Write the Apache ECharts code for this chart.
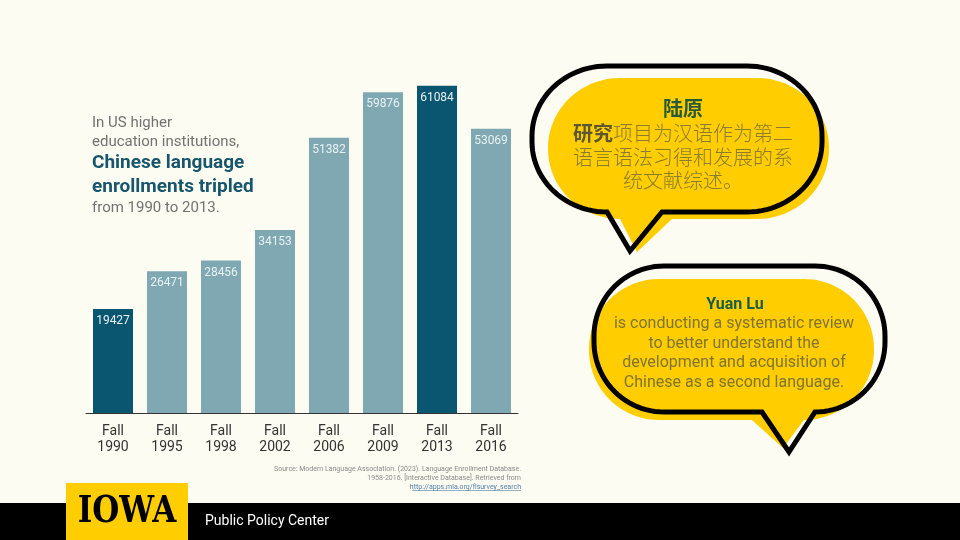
<!DOCTYPE html>
<html>
<head>
<meta charset="utf-8">
<script src="https://cdn.jsdelivr.net/npm/echarts@6/dist/echarts.min.js"></script>
<style>html,body{margin:0;padding:0;background:#fdfcf2;}#c{width:960px;height:540px;}</style>
</head>
<body>
<div id="c"></div>
<script>
const categories = ['Fall\n1990', 'Fall\n1995', 'Fall\n1998', 'Fall\n2002', 'Fall\n2006', 'Fall\n2009', 'Fall\n2013', 'Fall\n2016'];
const enrollments = [19427, 26471, 28456, 34153, 51382, 59876, 61084, 53069];
const highlighted = ['Fall\n1990', 'Fall\n2013'];

const introLines = ['In US higher', 'education institutions,'];
const headlineLines = ['Chinese language', 'enrollments tripled'];
const outroLine = 'from 1990 to 2013.';

const zhName = '陆原';
const zhText = '{b|研究}项目为汉语作为第二\n语言语法习得和发展的系\n统文献综述。';
const enName = 'Yuan Lu';
const enText = 'is conducting a systematic review\nto better understand the\ndevelopment and acquisition of\nChinese as a second language.';

const sourceLines = ['Source: Modern Language Association. (2023). Language Enrollment Database.', '1958-2016. [Interactive Database]. Retrieved from'];
const sourceLink = 'http://apps.mla.org/flsurvey_search';

const DARK = '#0a5671';
const LIGHT = '#80a8b3';
const GOLD = '#ffcd00';

// decorative speech-bubble outline as polygon points
function bubble(x0, y0, x1, y1, rx, ry, tl, tipx, tipy, tr) {
  const pts = [];
  const N = 24;
  function corner(cx, cy, a0, a1) {
    for (let i = 0; i <= N; i++) {
      const a = a0 + (a1 - a0) * i / N;
      pts.push([cx + rx * Math.cos(a), cy + ry * Math.sin(a)]);
    }
  }
  corner(x1 - rx, y0 + ry, -Math.PI / 2, 0);
  corner(x1 - rx, y1 - ry, 0, Math.PI / 2);
  pts.push([tr, y1]);
  pts.push([tipx, tipy]);
  pts.push([tl, y1]);
  corner(x0 + rx, y1 - ry, Math.PI / 2, Math.PI);
  corner(x0 + rx, y0 + ry, Math.PI, Math.PI * 1.5);
  return pts;
}

const chart = echarts.init(document.getElementById('c'), null, { renderer: 'canvas' });

const graphics = [
  // Bubble 1
  { type: 'polygon', z: 1, shape: { points: bubble(548, 78, 829, 219, 72, 70, 620, 637, 252, 672) }, style: { fill: GOLD } },
  { type: 'polygon', z: 2, shape: { points: bubble(532, 66, 822, 212, 75, 70, 607, 630, 251, 662) }, style: { fill: null, stroke: '#000', lineWidth: 5, lineJoin: 'miter' } },
  { type: 'text', z: 3, x: 683, y: 108, style: { text: zhName, fill: '#285a38', font: 'bold 20px "Noto Sans CJK SC"', align: 'center', verticalAlign: 'middle' } },
  { type: 'text', z: 3, x: 683, y: 122, style: {
      text: zhText, fill: '#8a7b2e', fontSize: 20, fontFamily: 'Noto Sans CJK SC', fontWeight: 300, lineHeight: 23.5,
      align: 'center', verticalAlign: 'top',
      rich: { b: { fontWeight: 'bold', fill: '#5d5632', fontSize: 20, fontFamily: 'Noto Sans CJK SC', lineHeight: 23.5 } }
  } },
  // Bubble 2
  { type: 'polygon', z: 1, shape: { points: bubble(589, 279, 874, 420, 70, 70, 752, 783, 448, 804) }, style: { fill: GOLD } },
  { type: 'polygon', z: 2, shape: { points: bubble(594, 266, 885, 412, 70, 70, 762, 789, 452, 815) }, style: { fill: null, stroke: '#000', lineWidth: 5, lineJoin: 'miter' } },
  { type: 'text', z: 3, x: 735, y: 305, style: { text: enName, fill: '#1d5c45', font: 'bold 16px Roboto', align: 'center', verticalAlign: 'middle' } },
  { type: 'text', z: 3, x: 734, y: 314.5, style: { text: enText, fill: '#7f7431', fontSize: 16, fontFamily: 'Roboto', lineHeight: 19.5, align: 'center', verticalAlign: 'top' } },
  // Left intro text
  { type: 'text', x: 92, y: 123, style: { text: introLines[0], fill: '#727272', font: '15px Roboto', verticalAlign: 'middle' } },
  { type: 'text', x: 92, y: 142, style: { text: introLines[1], fill: '#727272', font: '15px Roboto', verticalAlign: 'middle' } },
  { type: 'text', x: 92, y: 163, style: { text: headlineLines[0], fill: '#17566c', font: 'bold 19px Roboto', verticalAlign: 'middle' } },
  { type: 'text', x: 92, y: 187, style: { text: headlineLines[1], fill: '#17566c', font: 'bold 19px Roboto', verticalAlign: 'middle' } },
  { type: 'text', x: 92, y: 208, style: { text: outroLine, fill: '#727272', font: '15px Roboto', verticalAlign: 'middle' } },
  // Source
  { type: 'text', x: 521, y: 469, style: { text: sourceLines[0], fill: '#8a8a8a', font: '7px Roboto', align: 'right', verticalAlign: 'middle' } },
  { type: 'text', x: 521, y: 478, style: { text: sourceLines[1], fill: '#8a8a8a', font: '7px Roboto', align: 'right', verticalAlign: 'middle' } },
  { type: 'text', x: 521, y: 487, style: { text: sourceLink, fill: '#4f7ea8', font: '7px Roboto', align: 'right', verticalAlign: 'middle' } },
  { type: 'line', shape: { x1: 412, y1: 490.5, x2: 521, y2: 490.5 }, style: { stroke: '#4f7ea8', lineWidth: 0.6 } },
  // Footer
  { type: 'rect', shape: { x: 0, y: 503, width: 960, height: 37 }, style: { fill: '#000' } },
  { type: 'rect', shape: { x: 66, y: 483, width: 122, height: 57 }, style: { fill: GOLD } },
  { type: 'text', x: 127, y: 512, scaleX: 0.84, style: { text: 'IOWA', fill: '#000', font: '900 37px "DejaVu Serif"', align: 'center', verticalAlign: 'middle' } },
  { type: 'text', x: 205, y: 521, style: { text: 'Public Policy Center', fill: '#fff', font: '14px Roboto', verticalAlign: 'middle' } }
];

chart.setOption({
  backgroundColor: '#fdfcf2',
  animation: false,
  grid: { left: 86, right: 442, top: 38, bottom: 127, containLabel: false },
  xAxis: {
    type: 'category',
    data: categories,
    axisLine: { lineStyle: { color: '#333', width: 1 } },
    axisTick: { show: false },
    axisLabel: { fontSize: 14, color: '#333', fontFamily: 'Roboto', lineHeight: 16.5, margin: 10, interval: 0 }
  },
  yAxis: { type: 'value', min: 0, max: 70000, show: false, splitLine: { show: false } },
  series: [{
    type: 'bar',
    barWidth: 40,
    data: enrollments.map((v, i) => ({
      value: v,
      itemStyle: { color: highlighted.indexOf(categories[i]) >= 0 ? DARK : LIGHT }
    })),
    label: { show: true, position: 'insideTop', distance: 6, color: '#e9f2f3', fontSize: 12, fontFamily: 'Roboto' }
  }],
  graphic: graphics
});
</script>
</body>
</html>
